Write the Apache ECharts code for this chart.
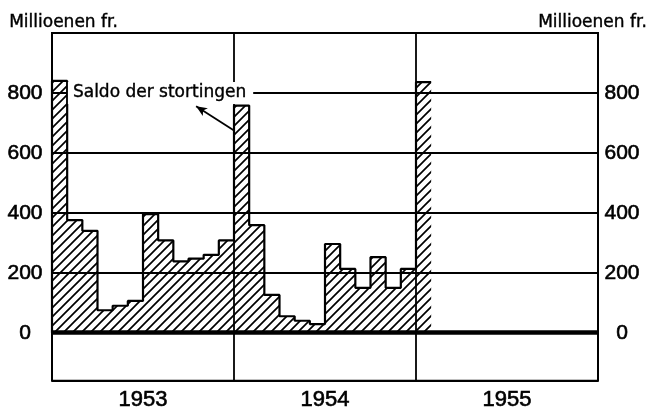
<!DOCTYPE html>
<html>
<head>
<meta charset="utf-8">
<script src="https://cdn.jsdelivr.net/npm/echarts@6/dist/echarts.min.js"></script>
<style>
  html, body { margin: 0; padding: 0; background: #fff; }
  #chart { width: 650px; height: 411px; }
</style>
</head>
<body>
<div id="chart"></div>
<script>
// ---- data ----
const years = ['1953', '1954', '1955'];
const values1953 = [840, 376, 340, 75, 90, 106, 396, 308, 238, 247, 260, 308];
const values1954 = [758, 359, 126, 55, 40, 29, 296, 213, 150, 252, 150, 213];
const values1955 = [836];
const yTickLabels = [0, 200, 400, 600, 800];
const unitLabel = 'Millioenen fr.';
const seriesName = 'Saldo der stortingen';

const monthly = values1953.concat(values1954, values1955);
const nMonths = years.length * 12;

// stepped outline: start at 0 on the first month boundary, step through months
const stepData = [[0, 0]];
monthly.forEach((v, i) => stepData.push([i, v]));
stepData.push([monthly.length, monthly[monthly.length - 1]]);

// hatch pattern
const pc = document.createElement('canvas');
const S = 9;
pc.width = S; pc.height = S;
const ctx = pc.getContext('2d');
ctx.strokeStyle = '#000';
ctx.lineWidth = 1.7;
ctx.beginPath();
ctx.moveTo(-1, S + 1); ctx.lineTo(S + 1, -1);
ctx.moveTo(-1, 1); ctx.lineTo(1, -1);
ctx.moveTo(S - 1, S + 1); ctx.lineTo(S + 1, S - 1);
ctx.stroke();

const FONT = 'DejaVu Sans';
const NUMFONT = 'Liberation Sans';
const chart = echarts.init(document.getElementById('chart'), null, { renderer: 'canvas' });

const labelFmt = v => (yTickLabels.indexOf(v) >= 0 ? String(v) : '');
const thick = { textBorderColor: '#000', textBorderWidth: 0.6 };

chart.setOption({
  animation: false,
  backgroundColor: '#fff',
  grid: {
    left: 52, right: 52, top: 33, bottom: 28,
    show: true, borderColor: '#000', borderWidth: 2, backgroundColor: 'transparent'
  },
  xAxis: [
    { type: 'value', min: 0, max: nMonths, show: false },
    {
      type: 'category', data: years, position: 'bottom', boundaryGap: true,
      axisLine: { show: false, onZero: false },
      axisTick: { show: false },
      splitLine: { show: true, lineStyle: { color: '#000', width: 1.8 } },
      axisLabel: Object.assign({ color: '#000', fontFamily: NUMFONT, fontSize: 22, margin: 8 }, thick)
    }
  ],
  yAxis: [
    {
      type: 'value', min: -160, max: 1000, position: 'left',
      axisLine: { show: false }, axisTick: { show: false },
      splitLine: { show: true, lineStyle: { color: '#000', width: 1.8 } },
      axisLabel: Object.assign({ color: '#000', fontFamily: NUMFONT, fontSize: 21, align: 'center', margin: 27, formatter: labelFmt }, thick)
    },
    {
      type: 'value', min: -160, max: 1000, position: 'right',
      axisLine: { show: false }, axisTick: { show: false },
      splitLine: { show: false },
      axisLabel: Object.assign({ color: '#000', fontFamily: NUMFONT, fontSize: 21, align: 'center', margin: 24, formatter: labelFmt }, thick)
    }
  ],
  graphic: [
    { type: 'text', left: 9, top: 14, style: { text: unitLabel, font: '17px "' + FONT + '"', fill: '#000', stroke: '#000', lineWidth: 0.4 } },
    { type: 'text', right: 3, top: 14, style: { text: unitLabel, font: '17px "' + FONT + '"', fill: '#000', stroke: '#000', lineWidth: 0.4 } }
  ],
  series: [
    {
      type: 'line', name: seriesName,
      xAxisIndex: 0, yAxisIndex: 0,
      step: 'end',
      data: stepData,
      showSymbol: false, symbol: 'none',
      lineStyle: { color: '#000', width: 2.2 },
      areaStyle: { color: { image: pc, repeat: 'repeat' }, opacity: 1 },
      z: 3,
      markLine: {
        silent: true,
        animation: false,
        label: { show: false },
        data: [
          [{ coord: [0, 0], symbol: 'none', lineStyle: { color: '#000', width: 4.5, type: 'solid' } },
           { coord: [nMonths, 0], symbol: 'none' }],
          [{ coord: [12, 675], symbol: 'none', lineStyle: { color: '#000', width: 1.8, type: 'solid' } },
           { coord: [9.5, 756], symbol: 'arrow', symbolSize: [7, 11] }]
        ]
      },
      markPoint: {
        silent: true,
        animation: false,
        data: [{
          coord: [1.05, 800], symbol: 'rect', symbolSize: 0,
          label: {
            show: true, position: 'right', distance: 0,
            formatter: seriesName,
            color: '#000', fontFamily: FONT, fontSize: 17,
            textBorderColor: '#000', textBorderWidth: 0.4,
            backgroundColor: '#fff', padding: [3, 7, 2, 5]
          }
        }]
      }
    }
  ]
});
</script>
</body>
</html>
